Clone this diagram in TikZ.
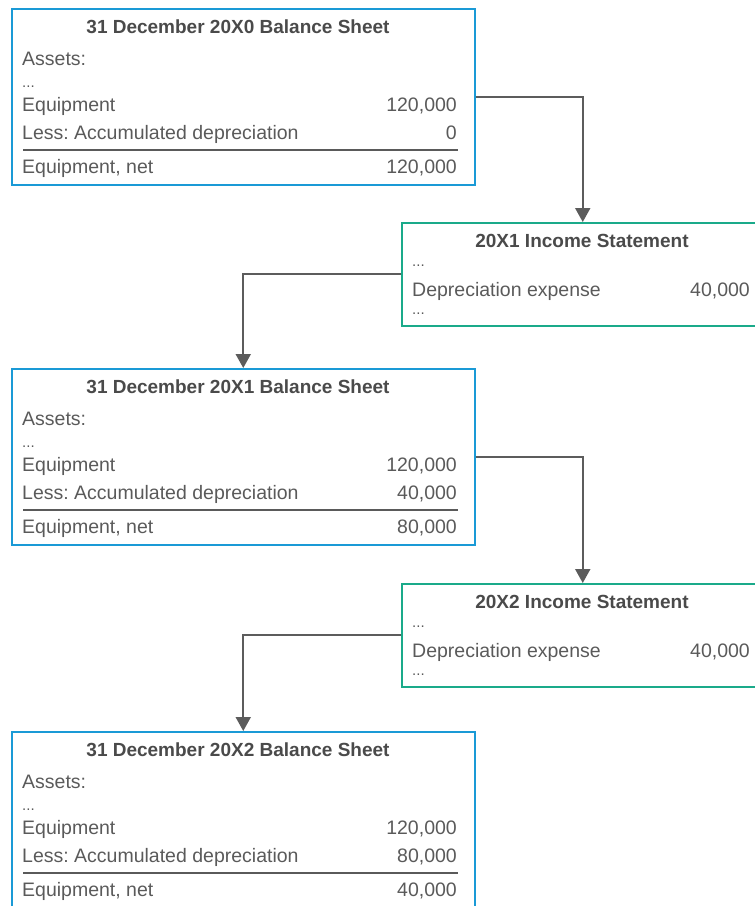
\documentclass[tikz,border=0pt]{standalone}
\usepackage{fontspec}
\setmainfont{Liberation Sans}
\usetikzlibrary{arrows.meta}
\frenchspacing
\definecolor{bsblue}{HTML}{1A9AD6}
\definecolor{isgreen}{HTML}{1AAA8A}
\definecolor{txtgray}{HTML}{5A5A5A}
\definecolor{ttlgray}{HTML}{4A4A4A}
\definecolor{arrgray}{HTML}{5C5C5C}
\tikzset{
  bsbox/.style={draw=bsblue, line width=1.5pt, inner sep=0pt, minimum width=463pt, minimum height=176pt, anchor=north west},
  isbox/.style={draw=isgreen, line width=1.5pt, inner sep=0pt, minimum width=362pt, minimum height=103pt, anchor=north west},
  ttl/.style={anchor=base, inner sep=0pt, text=ttlgray, font=\bfseries\fontsize{19}{22}\selectfont},
  lt/.style={anchor=base west, inner sep=0pt, text=txtgray, font=\fontsize{19.5}{23}\selectfont},
  rt/.style={anchor=base east, inner sep=0pt, text=txtgray, font=\fontsize{19.5}{23}\selectfont},
  dots/.style={anchor=base west, inner sep=0pt, text=txtgray, font=\fontsize{15}{17}\selectfont},
  rule/.style={draw=txtgray, line width=1.2pt},
  conn/.style={draw=arrgray, line width=2pt, -{Triangle[width=15pt,length=14pt]}}
}
\newcommand\bsheet[6]{%
  \node[bsbox] (#1) at (11,#2) {};
  \node[ttl] (#1-t) at (238,#2+25) {31 December #3 Balance Sheet};
  \node[lt] (#1-a) at (22,#2+57) {Assets:};
  \node[dots] (#1-d) at (22,#2+79) {...};
  \node[lt] (#1-e) at (22,#2+103) {Equipment};
  \node[rt] (#1-ev) at (457,#2+103) {#4};
  \node[lt] (#1-l) at (22,#2+131) {Less: Accumulated depreciation};
  \node[rt] (#1-lv) at (457,#2+131) {#5};
  \draw[rule] (23,#2+142) -- (458,#2+142);
  \node[lt] (#1-n) at (22,#2+165) {Equipment, net};
  \node[rt] (#1-nv) at (457,#2+165) {#6};
}
\newcommand\istmt[3]{%
  \node[isbox] (#1) at (401,#2) {};
  \node[ttl] (#1-t) at (582,#2+25) {#3 Income Statement};
  \node[dots] (#1-d1) at (412,#2+44) {...};
  \node[lt] (#1-x) at (412,#2+74) {Depreciation expense};
  \node[rt] (#1-xv) at (750,#2+74) {40,000};
  \node[dots] (#1-d2) at (412,#2+92) {...};
}
\begin{document}
\begin{tikzpicture}[x=1pt,y=-1pt]
\useasboundingbox (0,0) rectangle (755,906);
\bsheet{b0}{8}{20X0}{120,000}{0}{120,000}
\istmt{i1}{222}{20X1}
\bsheet{b1}{368}{20X1}{120,000}{40,000}{80,000}
\istmt{i2}{583}{20X2}
\bsheet{b2}{731}{20X2}{120,000}{80,000}{40,000}
\draw[conn] (b0.east) -| (i1.north);
\draw[conn] (i1.west) -| (b1.north);
\draw[conn] (b1.east) -| (i2.north);
\draw[conn] (i2.west) -| (b2.north);
\end{tikzpicture}
\end{document}
